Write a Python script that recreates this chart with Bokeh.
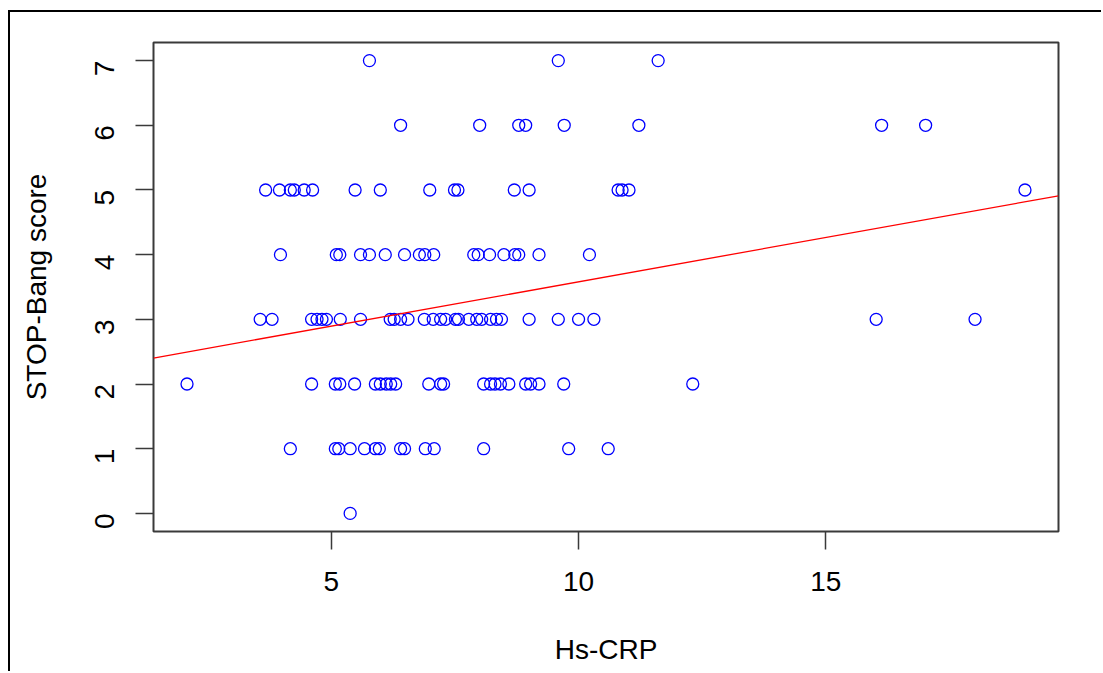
import math
import numpy as np
from bokeh.plotting import figure
from bokeh.models import Range1d, FixedTicker
from bokeh.embed import file_html
from bokeh.resources import INLINE

# ---- data ----
row7 = [5.77, 9.59, 11.61]
row6 = [6.40, 8.00, 8.79, 8.93, 9.71, 11.22, 16.13, 17.02]
row5 = [3.67, 3.95, 4.17, 4.25, 4.45, 4.62, 5.48, 5.99, 6.99, 7.49, 7.56, 8.70, 9.00,
        10.80, 10.88, 11.02, 19.03]
row4 = [3.97, 5.10, 5.17, 5.59, 5.77, 6.09, 6.48, 6.78, 6.89, 7.07, 7.88, 7.97, 8.20,
        8.49, 8.71, 8.79, 9.20, 10.22]
row3 = [3.56, 3.80, 4.60, 4.71, 4.81, 4.90, 5.18, 5.59, 6.19, 6.27, 6.40, 6.55, 6.88,
        7.06, 7.21, 7.31, 7.51, 7.57, 7.78, 7.94, 8.04, 8.22, 8.34, 8.44, 9.00, 9.59,
        10.00, 10.31, 16.02, 18.02]
row2 = [2.08, 4.60, 5.08, 5.17, 5.47, 5.89, 5.99, 6.11, 6.20, 6.30, 6.97, 7.21, 7.27,
        8.08, 8.22, 8.31, 8.42, 8.59, 8.93, 9.03, 9.20, 9.70, 12.31]
row1 = [4.17, 5.08, 5.15, 5.38, 5.67, 5.89, 5.97, 6.40, 6.48, 6.90, 7.08, 8.08, 9.80, 10.60]
row0 = [5.38]

rows = {7: row7, 6: row6, 5: row5, 4: row4, 3: row3, 2: row2, 1: row1, 0: row0}
hs_crp = []
stop_bang = []
for score, vals in rows.items():
    hs_crp.extend(vals)
    stop_bang.extend([score] * len(vals))

fit_intercept = 2.21
fit_slope = 0.137

x_ticks = [5, 10, 15]
y_ticks = [0, 1, 2, 3, 4, 5, 6, 7]
x_label = "Hs-CRP"
y_label = "STOP-Bang score"

# R-style axis limits (data range extended by 4%)
xmin, xmax = min(hs_crp), max(hs_crp)
ymin, ymax = min(stop_bang), max(stop_bang)
xpad = 0.04 * (xmax - xmin)
ypad = 0.04 * (ymax - ymin)
X0, X1 = xmin - xpad, xmax + xpad
Y0, Y1 = ymin - ypad, ymax + ypad

FONT = "Liberation Sans"

p = figure(width=1093, height=661, output_backend="svg", toolbar_location=None,
           x_range=Range1d(X0, X1), y_range=Range1d(Y0, Y1),
           min_border_left=143, min_border_right=45, min_border_top=30,
           min_border_bottom=142)
p.styles = {"border-left": "2px solid black", "border-top": "2px solid black",
            "margin-top": "10px", "margin-left": "8px"}

p.background_fill_color = "white"
p.border_fill_color = "white"
p.outline_line_color = "#3a3a3a"
p.outline_line_width = 2
p.xgrid.visible = False
p.ygrid.visible = False

for ax in (p.xaxis[0], p.yaxis[0]):
    ax.axis_line_color = None
    ax.major_tick_line_color = "#3a3a3a"
    ax.major_tick_line_width = 1.5
    ax.major_tick_out = 18
    ax.major_tick_in = 0
    ax.minor_tick_line_color = None
    ax.major_label_text_font = FONT
    ax.major_label_text_font_size = "28px"
    ax.major_label_text_color = "black"
    ax.axis_label_text_font = FONT
    ax.axis_label_text_font_size = "28px"
    ax.axis_label_text_font_style = "normal"
    ax.axis_label_text_color = "black"

p.xaxis.ticker = FixedTicker(ticks=x_ticks)
p.yaxis.ticker = FixedTicker(ticks=y_ticks)
p.xaxis.axis_label = x_label
p.yaxis.axis_label = y_label
p.xaxis.major_label_standoff = 22
p.xaxis.axis_label_standoff = 40
p.yaxis.major_label_standoff = 31
p.yaxis.axis_label_standoff = 31
p.yaxis.major_label_orientation = math.pi / 2

p.scatter(hs_crp, stop_bang, marker="circle", size=12, fill_color=None,
          line_color="blue", line_width=1.3)

line_x = np.array([X0, X1])
line_y = fit_intercept + fit_slope * line_x
p.line(line_x, line_y, line_color="red", line_width=1.3)

open("out.html", "w").write(file_html(p, INLINE))
